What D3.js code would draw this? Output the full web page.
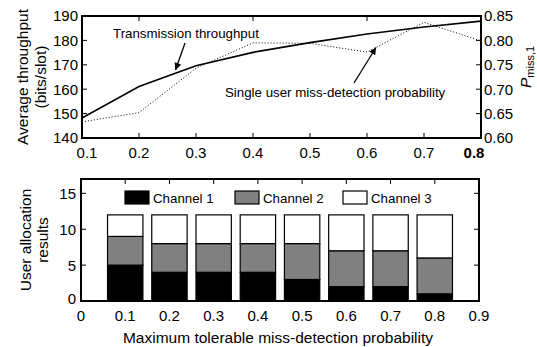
<!DOCTYPE html>
<html><head><meta charset="utf-8">
<script src="https://cdn.jsdelivr.net/npm/d3@7"></script>
<style>
body{margin:0;background:#fff;}
svg{display:block;font-family:"Liberation Sans",Arial,sans-serif;}
</style></head>
<body><svg id="c" width="537" height="347"></svg>
<script>
// ---- data ----
const probs = [0.1,0.2,0.3,0.4,0.5,0.6,0.7,0.8];
const throughput = [148.2,161.1,169.6,175.1,179.1,182.6,185.5,187.9];
const missProb = [0.633,0.652,0.743,0.795,0.794,0.776,0.837,0.799];
const channel1 = [5,4,4,4,3,2,2,1];
const channel2 = [4,4,4,4,5,5,5,5];
const channel3 = [3,4,4,4,4,5,5,6];
const channelNames = ["Channel 1","Channel 2","Channel 3"];
const channelColors = ["#000000","#808080","#ffffff"];
const topXTicks = [0.1,0.2,0.3,0.4,0.5,0.6,0.7,0.8];
const topYTicks = [140,150,160,170,180,190];
const rightYTicks = [0.60,0.65,0.70,0.75,0.80,0.85];
const botXTicks = [0,0.1,0.2,0.3,0.4,0.5,0.6,0.7,0.8,0.9];
const botYTicks = [0,5,10,15];

const svg = d3.select("#c");
const TICK = 15, LAB = 15.5, ANN = 13.3;

// ---- top plot ----
const T = {l:82,r:481,t:16,b:138};
const xT = d3.scaleLinear().domain([0.1,0.8]).range([T.l,T.r]);
const yL = d3.scaleLinear().domain([140,190]).range([T.b,T.t]);
const yR = d3.scaleLinear().domain([0.60,0.85]).range([T.b,T.t]);

const gT = svg.append("g");
// ticks (inward)
gT.selectAll(".xb").data(topXTicks).join("line")
  .attr("x1",d=>xT(d)).attr("x2",d=>xT(d)).attr("y1",T.b).attr("y2",T.b-5)
  .attr("stroke","#000").attr("stroke-width",1);
gT.selectAll(".xt").data([0.2,0.4,0.6]).join("line")
  .attr("x1",d=>xT(d)).attr("x2",d=>xT(d)).attr("y1",T.t).attr("y2",T.t+5)
  .attr("stroke","#000").attr("stroke-width",1);
gT.selectAll(".yl").data(topYTicks).join("line")
  .attr("x1",T.l).attr("x2",T.l+5).attr("y1",d=>yL(d)).attr("y2",d=>yL(d))
  .attr("stroke","#000").attr("stroke-width",1);
gT.selectAll(".yr").data(rightYTicks).join("line")
  .attr("x1",T.r).attr("x2",T.r-5).attr("y1",d=>yR(d)).attr("y2",d=>yR(d))
  .attr("stroke","#000").attr("stroke-width",1);

// lines
gT.append("path").datum(probs.map((p,i)=>[p,missProb[i]]))
  .attr("d",d3.line().x(d=>xT(d[0])).y(d=>yR(d[1])))
  .attr("fill","none").attr("stroke","#000").attr("stroke-width",1)
  .attr("stroke-dasharray","1,2");
gT.append("path").datum(probs.map((p,i)=>[p,throughput[i]]))
  .attr("d",d3.line().x(d=>xT(d[0])).y(d=>yL(d[1])))
  .attr("fill","none").attr("stroke","#000").attr("stroke-width",1.6);

// frame
gT.append("rect").attr("x",T.l).attr("y",T.t).attr("width",T.r-T.l).attr("height",T.b-T.t)
  .attr("fill","none").attr("stroke","#000").attr("stroke-width",2);

// tick labels
gT.selectAll(".xl").data(topXTicks).join("text")
  .attr("x",(d,i)=>xT(d)+(i===0?5:(i===topXTicks.length-1?-7:0)))
  .attr("y",T.b+20).attr("text-anchor","middle")
  .attr("font-size",TICK).attr("font-weight",(d,i)=>i===topXTicks.length-1?"bold":"normal")
  .text(d=>d3.format(".1f")(d));
gT.selectAll(".ylab").data(topYTicks).join("text")
  .attr("x",T.l-4).attr("y",d=>yL(d)).attr("dy","0.36em").attr("text-anchor","end")
  .attr("font-size",TICK).text(d=>d);
gT.selectAll(".yrlab").data(rightYTicks).join("text")
  .attr("x",T.r+3).attr("y",d=>yR(d)).attr("dy","0.36em").attr("text-anchor","start")
  .attr("font-size",TICK).text(d=>d3.format(".2f")(d));

// axis labels
const lt = gT.append("text").attr("transform",`translate(28,${(T.t+T.b)/2}) rotate(-90)`)
  .attr("text-anchor","middle").attr("font-size",LAB);
lt.append("tspan").attr("x",0).attr("y",0).text("Average throughput");
lt.append("tspan").attr("x",0).attr("y",18).text("(bits/slot)");

const rt = gT.append("text").attr("transform",`translate(531,${(T.t+T.b)/2-10}) rotate(-90)`)
  .attr("text-anchor","middle").attr("font-size",LAB);
rt.append("tspan").attr("font-style","italic").text("P");
rt.append("tspan").attr("font-size",11).attr("dy",3).text("miss,1");

// annotations
const defs = svg.append("defs");
defs.append("marker").attr("id","ah").attr("viewBox","0 0 10 10").attr("refX",10).attr("refY",5)
  .attr("markerWidth",8).attr("markerHeight",7).attr("markerUnits","userSpaceOnUse").attr("orient","auto")
  .append("path").attr("d","M0,0L10,5L0,10Z").attr("fill","#000");

gT.append("text").attr("x",113).attr("y",37.5).attr("font-size",ANN).text("Transmission throughput");
gT.append("line").attr("x1",185).attr("y1",43).attr("x2",175.5).attr("y2",70)
  .attr("stroke","#000").attr("stroke-width",1.3).attr("marker-end","url(#ah)");
gT.append("text").attr("x",225).attr("y",97).attr("font-size",ANN).text("Single user miss-detection probability");
gT.append("line").attr("x1",354).attr("y1",83).attr("x2",376).attr("y2",47.5)
  .attr("stroke","#000").attr("stroke-width",1.3).attr("marker-end","url(#ah)");

// ---- bottom plot ----
const B = {l:81,r:479,t:179,b:301};
const xB = d3.scaleLinear().domain([0,0.9]).range([B.l,B.r]);
const yB = d3.scaleLinear().domain([0,17]).range([B.b,B.t]);
const gB = svg.append("g");

const rows = probs.map((p,i)=>({p, c1:channel1[i], c2:channel2[i], c3:channel3[i]}));
const stack = d3.stack().keys(["c1","c2","c3"])(rows);
const bw = xB(0.08)-xB(0);
gB.selectAll(".ser").data(stack).join("g").attr("fill",(d,i)=>channelColors[i])
  .selectAll("rect").data(d=>d).join("rect")
  .attr("x",d=>xB(d.data.p)-bw/2).attr("width",bw)
  .attr("y",d=>yB(d[1])).attr("height",d=>yB(d[0])-yB(d[1]))
  .attr("stroke","#000").attr("stroke-width",1.2);

gB.selectAll(".xt").data(botXTicks.slice(1,-1)).join("line")
  .attr("x1",d=>xB(d)).attr("x2",d=>xB(d)).attr("y1",B.t).attr("y2",B.t+5)
  .attr("stroke","#000").attr("stroke-width",1);
gB.selectAll(".yl").data(botYTicks.slice(1)).join("line")
  .attr("x1",B.l).attr("x2",B.l+5).attr("y1",d=>yB(d)).attr("y2",d=>yB(d))
  .attr("stroke","#000").attr("stroke-width",1);
gB.selectAll(".yr").data(botYTicks.slice(1)).join("line")
  .attr("x1",B.r).attr("x2",B.r-5).attr("y1",d=>yB(d)).attr("y2",d=>yB(d))
  .attr("stroke","#000").attr("stroke-width",1);

gB.append("rect").attr("x",B.l).attr("y",B.t).attr("width",B.r-B.l).attr("height",B.b-B.t)
  .attr("fill","none").attr("stroke","#000").attr("stroke-width",2);

gB.selectAll(".xl").data(botXTicks).join("text")
  .attr("x",d=>xB(d)).attr("y",B.b+20).attr("text-anchor","middle")
  .attr("font-size",TICK).text(d=>d===0?"0":d3.format(".1f")(d));
gB.selectAll(".ylab").data(botYTicks).join("text")
  .attr("x",B.l-5).attr("y",d=>yB(d)).attr("dy",(d)=>d===0?"0.2em":"0.36em").attr("text-anchor","end")
  .attr("font-size",TICK).text(d=>d);

const lb = gB.append("text").attr("transform",`translate(31,${(B.t+B.b)/2}) rotate(-90)`)
  .attr("text-anchor","middle").attr("font-size",LAB);
lb.append("tspan").attr("x",0).attr("y",0).text("User allocation");
lb.append("tspan").attr("x",0).attr("y",17).text("results");

gB.append("text").attr("x",(B.l+B.r)/2-2).attr("y",343).attr("text-anchor","middle")
  .attr("font-size",LAB).text("Maximum tolerable miss-detection probability");

// legend
const legX = [125,235,343];
const lg = gB.selectAll(".leg").data(channelNames).join("g")
  .attr("transform",(d,i)=>`translate(${legX[i]},191)`);
lg.append("rect").attr("width",24).attr("height",13).attr("fill",(d,i)=>channelColors[i])
  .attr("stroke","#000").attr("stroke-width",1.2);
lg.append("text").attr("x",28).attr("y",11.5).attr("font-size",ANN).text(d=>d);
</script></body></html>
